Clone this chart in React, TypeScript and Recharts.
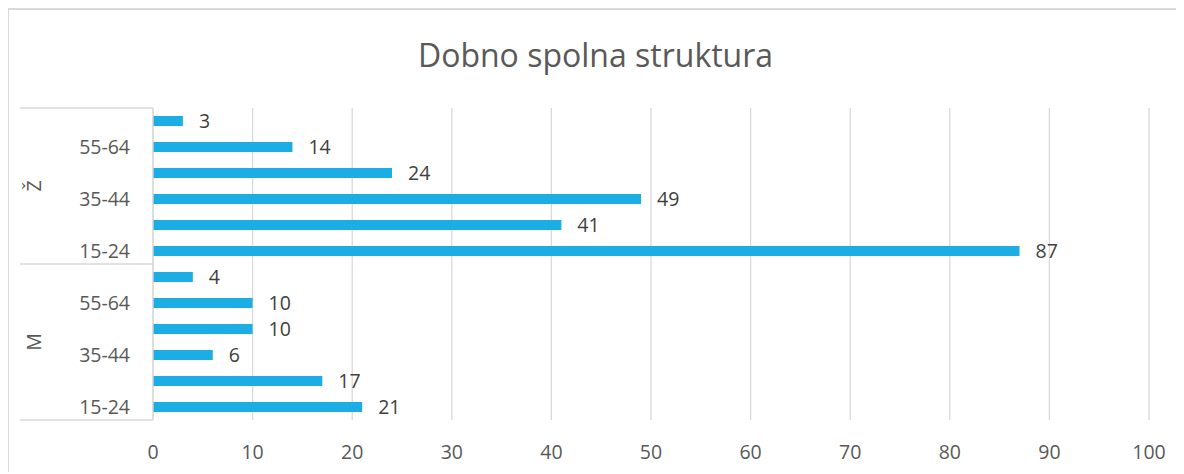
import { Bar, BarChart, CartesianGrid, LabelList, XAxis, YAxis } from "recharts"

// top to bottom, as drawn
const groups = ["Ž", "Ž", "Ž", "Ž", "Ž", "Ž", "M", "M", "M", "M", "M", "M"]
const ageGroups = ["65+", "55-64", "45-54", "35-44", "25-34", "15-24", "65+", "55-64", "45-54", "35-44", "25-34", "15-24"]
const counts = [3, 14, 24, 49, 41, 87, 4, 10, 10, 6, 17, 21]
const xTicks = [0, 10, 20, 30, 40, 50, 60, 70, 80, 90, 100]

const data = ageGroups.map((age, i) => ({ key: `${groups[i]} ${age}`, age, group: groups[i], value: counts[i] }))

const W = 1173
const H = 462
const TOP = 98
const BOTTOM = 52
const PLOT_H = H - TOP - BOTTOM
const BAND = PLOT_H / data.length
const AXIS_X = 144
const FONT = "'Open Sans', sans-serif"
const BORDER = "#d9d9d9"

function CategoryTick(props: any) {
  const { y, index } = props
  const d = data[index]
  if (!d) return null
  const first = index === 0 || data[index - 1].group !== d.group
  const last = index === data.length - 1
  let start = index
  while (start > 0 && data[start - 1].group === d.group) start--
  let end = index
  while (end < data.length - 1 && data[end + 1].group === d.group) end++
  const mid = (start + end) / 2
  const showGroup = index === Math.floor(mid)
  const groupY = y + (mid - index) * BAND
  return (
    <g>
      {first && <line x1={11} x2={AXIS_X} y1={y - BAND / 2} y2={y - BAND / 2} stroke={BORDER} strokeWidth={1.3} />}
      {last && <line x1={11} x2={AXIS_X} y1={y + BAND / 2} y2={y + BAND / 2} stroke={BORDER} strokeWidth={1.3} />}
      {index % 2 === 1 && (
        <text x={121} y={y} dy="0.36em" textAnchor="end" fill="#595959" fontSize={19.5} fontFamily={FONT}>
          {d.age}
        </text>
      )}
      {showGroup && (
        <text
          x={25}
          y={groupY}
          dy="0.36em"
          textAnchor="middle"
          fill="#595959"
          fontSize={19.5}
          fontFamily={FONT}
          transform={`rotate(-90 25 ${groupY})`}
        >
          {d.group}
        </text>
      )}
    </g>
  )
}

export default function App() {
  return (
    <div style={{ position: "relative", width: W + 2, height: H + 2, marginLeft: -1, background: "#fff" }}>
      <div style={{ position: "absolute", left: 0, top: 0, width: 2, height: H + 2, background: BORDER }} />
      <div style={{ position: "absolute", left: 0, top: 0, width: W + 2, height: 2, background: BORDER }} />
      <div
        style={{
          position: "absolute",
          left: 2,
          width: W,
          top: 25,
          textAlign: "center",
          fontFamily: FONT,
          fontSize: 32,
          color: "#595959",
        }}
      >
        Dobno spolna struktura
      </div>
      <div style={{ position: "absolute", left: 2, top: 2 }}>
        <BarChart
          width={W}
          height={H}
          data={data}
          layout="vertical"
          barCategoryGap={0}
          margin={{ top: TOP, right: 33, bottom: 12, left: 0 }}
        >
          <CartesianGrid horizontal={false} stroke={BORDER} strokeWidth={1.3} />
          <XAxis
            type="number"
            domain={[0, 100]}
            ticks={xTicks}
            height={40}
            axisLine={false}
            tickLine={false}
            tickMargin={19}
            tick={{ fill: "#595959", fontSize: 19.5, fontFamily: FONT }}
          />
          <YAxis
            type="category"
            dataKey="key"
            width={AXIS_X}
            interval={0}
            tickLine={false}
            axisLine={{ stroke: BORDER, strokeWidth: 1.3 }}
            tick={CategoryTick}
          />
          <Bar dataKey="value" fill="#1CADE4" barSize={10} isAnimationActive={false}>
            <LabelList dataKey="value" position="right" offset={16} fill="#404040" fontSize={19.5} fontFamily={FONT} />
          </Bar>
        </BarChart>
      </div>
    </div>
  )
}
